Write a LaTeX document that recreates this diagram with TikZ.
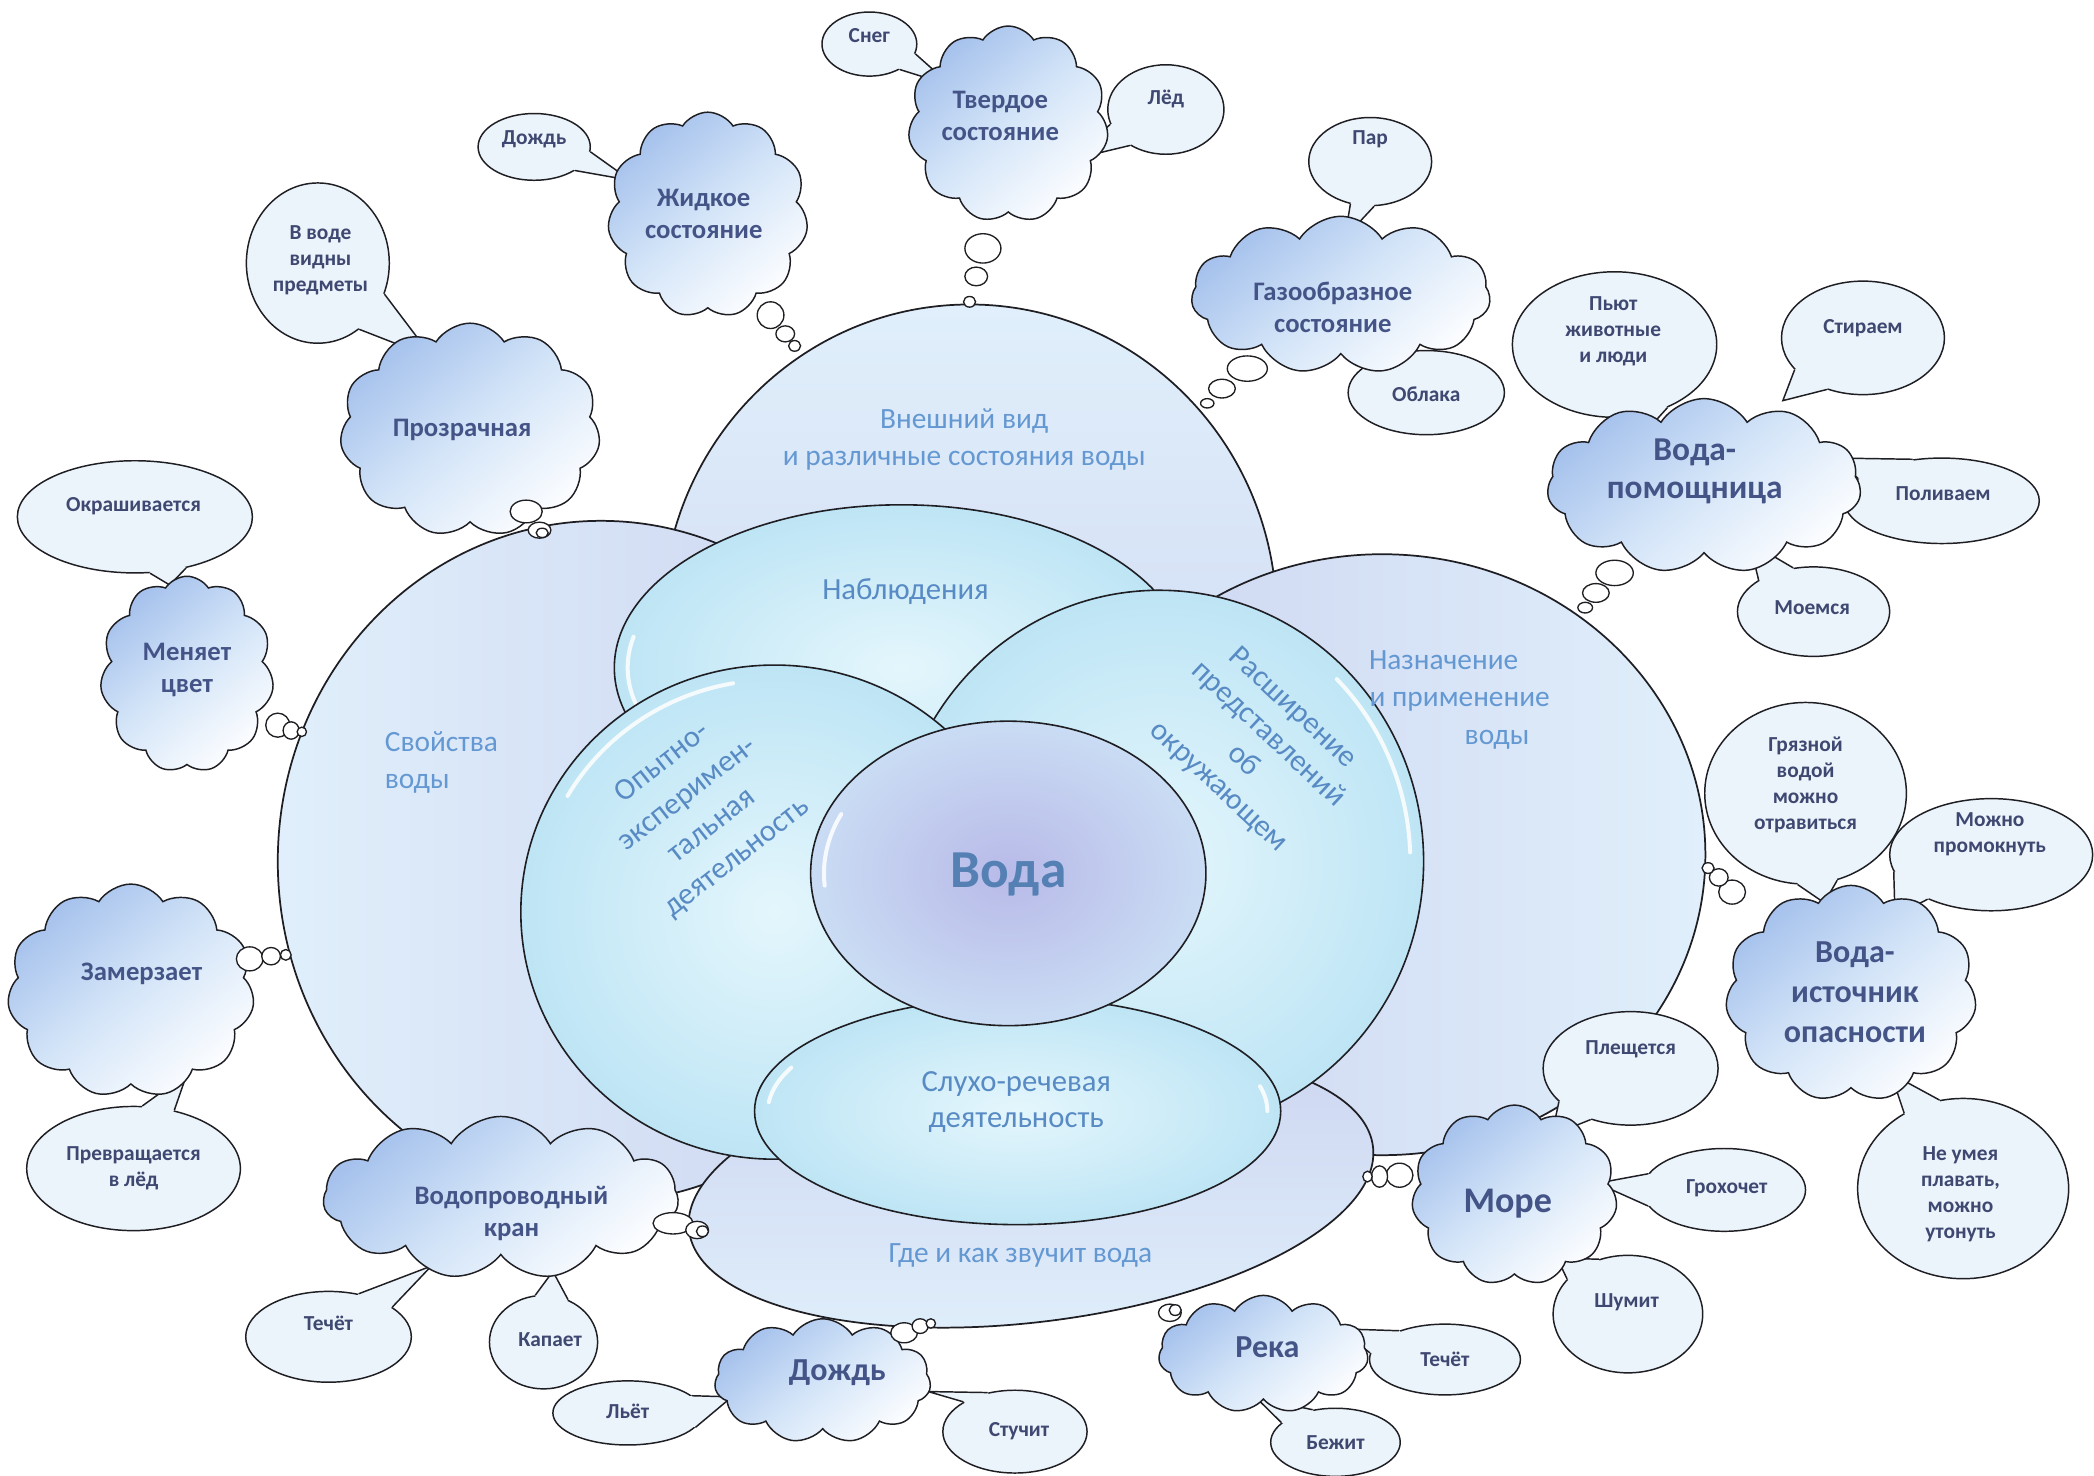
\documentclass[tikz,border=0pt]{standalone}
\usepackage{fontspec}
\setmainfont{Carlito}
\usetikzlibrary{shapes.geometric,shapes.symbols}
\definecolor{bigA}{RGB}{224,239,251}
\definecolor{bigB}{RGB}{204,212,240}
\definecolor{innA}{RGB}{228,246,252}
\definecolor{innB}{RGB}{190,229,245}
\definecolor{vodaA}{RGB}{184,186,232}
\definecolor{vodaB}{RGB}{202,220,244}
\definecolor{cloudA}{RGB}{165,193,236}
\definecolor{cloudM}{RGB}{212,229,248}
\definecolor{cloudB}{RGB}{252,253,255}
\definecolor{bubfill}{RGB}{235,243,251}
\definecolor{speechtxt}{RGB}{62,72,112}
\definecolor{cloudtxt}{RGB}{68,84,135}
\definecolor{biglbl}{RGB}{100,152,210}
\definecolor{innlbl}{RGB}{88,138,196}
\definecolor{vodalbl}{RGB}{85,128,180}
\definecolor{outline}{RGB}{30,30,35}
\tikzset{
  bigshape/.style={ellipse, draw=outline, line width=1.3pt, inner sep=0pt},
  topshade/.style={top color=bigA, bottom color=bigB},
  leftshade/.style={left color=bigA, right color=bigB},
  rightshade/.style={left color=bigB, right color=bigA},
  botshade/.style={top color=bigB, bottom color=bigA},
  innshape/.style={ellipse, draw=outline, line width=1.2pt, inner sep=0pt, inner color=innA, outer color=innB},
  vodashape/.style={ellipse, draw=outline, line width=1.2pt, inner sep=0pt, inner color=vodaA, outer color=vodaB},
  gloss/.style={draw=white, line width=3pt, line cap=round, opacity=0.85},
  cloudshape/.style={cloud, cloud puffs=11, cloud puff arc=115, cloud ignores aspect, draw=outline, line width=1.1pt, inner sep=0pt,
    top color=cloudA, bottom color=cloudB, middle color=cloudM, shading angle=40},
  bub/.style={ellipse, draw=outline, line width=1.1pt, fill=bubfill, inner sep=0pt},
  bubline/.style={draw=outline, line width=1.1pt, line join=miter},
  thought/.style={ellipse, draw=outline, line width=1pt, fill=white, inner sep=0pt},
  stext/.style={font=\fontsize{16}{19.5}\selectfont\bfseries, text=speechtxt, align=center, inner sep=0pt},
  ctext/.style={font=\fontsize{20}{24}\selectfont\bfseries, text=cloudtxt, align=center, inner sep=0pt},
  ltext/.style={font=\fontsize{25}{29.5}\selectfont\bfseries, text=cloudtxt, align=center, inner sep=0pt},
  btext/.style={font=\fontsize{22}{28}\selectfont, text=biglbl, align=center, inner sep=0pt},
  itext/.style={font=\fontsize{23}{27}\selectfont, text=innlbl, align=center, inner sep=0pt},
}
\newcommand\speech[9]{%
  \node[bub, minimum width=#3, minimum height=#4] (#1) at #2 {};
  \coordinate (#1tip) at #7;
  \fill[bubfill] (#1.center) -- (#1.#5) -- (#1tip) -- (#1.#6) -- cycle;
  \draw[bubline] (#1.#5) -- (#1tip) -- (#1.#6);
  \node[stext] (#1txt) at #8 {#9};
}
\newcommand\tb[4]{\node[thought, minimum width=#3, minimum height=#4] (#1) at #2 {};}
\newcommand\cloudnode[4]{\node[cloudshape, minimum width=#3, minimum height=#4] (#1) at #2 {};}
% glossy highlight: centre, x radius, y radius, start, end (angles counter-clockwise, y up)
\newcommand\glossarc[5]{\begin{scope}[shift={#1}, y=1pt]\draw[gloss] (#4:#2 and #3) arc[start angle=#4, end angle=#5, x radius=#2, y radius=#3];\end{scope}}
\begin{document}
\begin{tikzpicture}[x=1pt,y=-1pt]
\useasboundingbox (0,0) rectangle (1568,1105);
\fill[white] (0,0) rectangle (1568,1105);

% ---- big outer shapes
\node[bigshape, topshade, minimum width=460, minimum height=470] (top) at (726,463) {};
\node[bigshape, leftshade, minimum width=484, minimum height=510] (left) at (450,645) {};
\node[bigshape, rightshade, minimum width=484, minimum height=450] (right) at (1035,640) {};
\node[bigshape, botshade, minimum width=516, minimum height=200, rotate=7] (bottom) at (772,890) {};

% ---- inner shapes
\node[innshape, minimum width=430, minimum height=244] (nabl) at (675,500) {};
\glossarc{(675,500)}{205}{112}{168}{195}
\node[innshape, minimum width=396, minimum height=406] (rassh) at (868,645) {};
\glossarc{(868,645)}{188}{193}{2}{45}
\node[innshape, minimum width=380, minimum height=370] (opyt) at (580,683) {};
\glossarc{(580,683)}{179}{174}{100}{150}
\node[innshape, minimum width=394, minimum height=170] (sluh) at (762,832) {};
\glossarc{(762,832)}{187}{77}{155}{175}
\glossarc{(762,832)}{187}{77}{0}{14}
\node[vodashape, minimum width=296, minimum height=228] (voda) at (755,654) {};
\glossarc{(755,654)}{138}{105}{155}{185}

% ---- labels of big shapes
\node[btext] (topL) at (722,329) {Внешний вид\\и различные состояния воды};
\node[btext, align=left, anchor=west] (leftL) at (288,571) {Свойства\\воды};
\node[btext] (rightL) at (1093,524) {Назначение\hspace*{24pt}\\и применение\\\hspace*{56pt}воды};
\node[btext] (bottomL) at (764,940) {Где и как звучит вода};
\node[itext] (nablL) at (678,443) {Наблюдения};
\node[itext] (sluhL) at (761,825) {Слухо-речевая\\деятельность};
\node[itext, font=\fontsize{23}{30}\selectfont, rotate=38] (opytL) at (524,607) {Опытно-\\эксперимен-\\тальная\\деятельность};
\node[itext, font=\fontsize{23}{27}\selectfont, rotate=-43] (rasshL) at (940,560) {Расширение\\представлений\\об\\окружающем};
\node[font=\fontsize{40}{44}\selectfont\bfseries, text=vodalbl, inner sep=0pt] (vodaL) at (755,655) {Вода};

% ---- speech bubbles
\speech{sneg}{(651,33)}{71}{48}{348}{320}{(712,64)}{(651,27)}{Снег}
\speech{led}{(873,82)}{87}{67}{195}{225}{(800,120)}{(873,74)}{Лёд}
\speech{dozhdS}{(400,110)}{84}{50}{330}{355}{(472,135)}{(400,104)}{Дождь}
\speech{vvode}{(238,197)}{107}{120}{302}{335}{(324,268)}{(240,195)}{В воде\\видны\\предметы}
\speech{okrash}{(101,387)}{176}{84}{285}{315}{(127,438)}{(100,379)}{Окрашивается}
\speech{prevr}{(100,875)}{160}{93}{82}{55}{(140,804)}{(100,875)}{Превращается\\в лёд}
\speech{techK}{(246,1001)}{124}{68}{55}{25}{(323,948)}{(246,991)}{Течёт}
\speech{kapaet}{(407,1005)}{81}{70}{100}{60}{(414,952)}{(412,1003)}{Капает}
\speech{lyot}{(470,1058)}{112}{48}{15}{348}{(548,1046)}{(470,1057)}{Льёт}
\speech{stuchit}{(760,1072)}{108}{62}{150}{125}{(695,1042)}{(763,1072)}{Стучит}
\speech{plesch}{(1221,800)}{131}{85}{205}{232}{(1162,850)}{(1221,786)}{Плещется}
\speech{groh}{(1291,891)}{122}{62}{168}{192}{(1196,886)}{(1293,890)}{Грохочет}
\speech{shumit}{(1219,984)}{112}{88}{150}{118}{(1166,942)}{(1218,975)}{Шумит}
\speech{techR}{(1082,1018)}{113}{53}{175}{148}{(1003,995)}{(1082,1018)}{Течёт}
\speech{bezhit}{(1000,1080)}{97}{51}{160}{125}{(941,1047)}{(1000,1080)}{Бежит}
\speech{gryaz}{(1352,594)}{151}{136}{265}{290}{(1366,676)}{(1352,588)}{Грязной\\водой\\можно\\отравиться}
\speech{promok}{(1491,640)}{152}{84}{190}{215}{(1419,686)}{(1490,625)}{Можно\\промокнуть}
\speech{neumeya}{(1470,890)}{158}{135}{128}{105}{(1416,804)}{(1468,894)}{Не умея\\плавать,\\можно\\утонуть}
\speech{pyut}{(1209,258)}{153}{109}{272}{310}{(1237,318)}{(1208,248)}{Пьют\\животные\\и люди}
\speech{stir}{(1395,253)}{122}{85}{205}{235}{(1335,300)}{(1395,246)}{Стираем}
\speech{poliv}{(1454,375)}{146}{64}{125}{165}{(1376,343)}{(1455,370)}{Поливаем}
\speech{moem}{(1358,458)}{114}{67}{150}{115}{(1310,406)}{(1357,455)}{Моемся}
\speech{par}{(1026,121)}{92}{66}{245}{275}{(1007,178)}{(1026,104)}{Пар}
\speech{oblaka}{(1068,294)}{117}{63}{140}{105}{(1040,252)}{(1068,295)}{Облака}

% ---- clouds
\cloudnode{tverd}{(755,93)}{150}{147}
\cloudnode{zhid}{(530,161)}{150}{154}
\cloudnode{prozr}{(352,322)}{195}{160}
\cloudnode{menya}{(140,505)}{130}{147}
\cloudnode{zamerz}{(98,742)}{185}{160}
\cloudnode{vodopr}{(375,897)}{266}{122}
\cloudnode{dozhd}{(616,1034)}{162}{93}
\cloudnode{reka}{(946,1014)}{157}{88}
\cloudnode{more}{(1134,895)}{154}{135}
\cloudnode{istoch}{(1386,744)}{188}{162}
\cloudnode{pomosh}{(1276,364)}{235}{131}
\cloudnode{gaz}{(1004,221)}{224}{118}

\node[ctext] (tverdL) at (749,87) {Твердое\\состояние};
\node[ctext] (zhidL) at (527,160) {Жидкое\\состояние};
\node[ctext] (prozrL) at (346,322) {Прозрачная};
\node[ctext] (menyaL) at (140,502) {Меняет\\цвет};
\node[ctext] (zamerzL) at (106,729) {Замерзает};
\node[ctext] (vodoprL) at (383,909) {Водопроводный\\кран};
\node[ltext, font=\fontsize{24}{28}\selectfont\bfseries] (dozhdL) at (627,1028) {Дождь};
\node[ltext, font=\fontsize{24}{28}\selectfont\bfseries] (rekaL) at (949,1009) {Река};
\node[ltext, font=\fontsize{27}{31}\selectfont\bfseries] (moreL) at (1129,901) {Море};
\node[ltext, font=\fontsize{24}{30}\selectfont\bfseries] (istochL) at (1389,743) {Вода-\\источник\\опасности};
\node[ltext, font=\fontsize{25}{28}\selectfont\bfseries] (pomoshL) at (1269,353) {Вода-\\помощница};
\node[ctext] (gazL) at (998,230) {Газообразное\\состояние};

% ---- thought bubbles
\tb{tverd1}{(736,186)}{27}{22}\tb{tverd2}{(731,207)}{17}{14}\tb{tverd3}{(726,226)}{9}{8}
\tb{zhid1}{(577,236)}{20}{20}\tb{zhid2}{(588,250)}{14}{12}\tb{zhid3}{(595,259)}{9}{8}
\tb{prozr1}{(394,383)}{24}{17}\tb{prozr2}{(404,397)}{17}{12}\tb{prozr3}{(406,399)}{9}{7}
\tb{menya1}{(208,543)}{18}{18}\tb{menya2}{(218,547)}{12}{13}\tb{menya3}{(226,548)}{7}{7}
\tb{zamerz1}{(187,718)}{20}{18}\tb{zamerz2}{(203,716)}{14}{13}\tb{zamerz3}{(214,715)}{8}{8}
\tb{vodopr1}{(504,916)}{30}{16}\tb{vodopr2}{(522,921)}{17}{13}\tb{vodopr3}{(526,922)}{9}{8}
\tb{dozhd1}{(677,998)}{20}{15}\tb{dozhd2}{(689,993)}{12}{11}\tb{dozhd3}{(697,991)}{7}{7}
\tb{reka1}{(876,983)}{17}{13}\tb{reka2}{(880,981)}{9}{8}
\tb{more1}{(1048,880)}{20}{18}\tb{more2}{(1033,881)}{12}{16}\tb{more3}{(1024,881)}{7}{8}
\tb{istoch1}{(1297,668)}{20}{18}\tb{istoch2}{(1287,657)}{14}{13}\tb{istoch3}{(1279,650)}{9}{8}
\tb{pomosh1}{(1209,429)}{28}{19}\tb{pomosh2}{(1195,444)}{20}{14}\tb{pomosh3}{(1187,455)}{11}{8}
\tb{gaz1}{(934,276)}{30}{19}\tb{gaz2}{(915,291)}{20}{14}\tb{gaz3}{(904,302)}{10}{7}
\end{tikzpicture}
\end{document}
